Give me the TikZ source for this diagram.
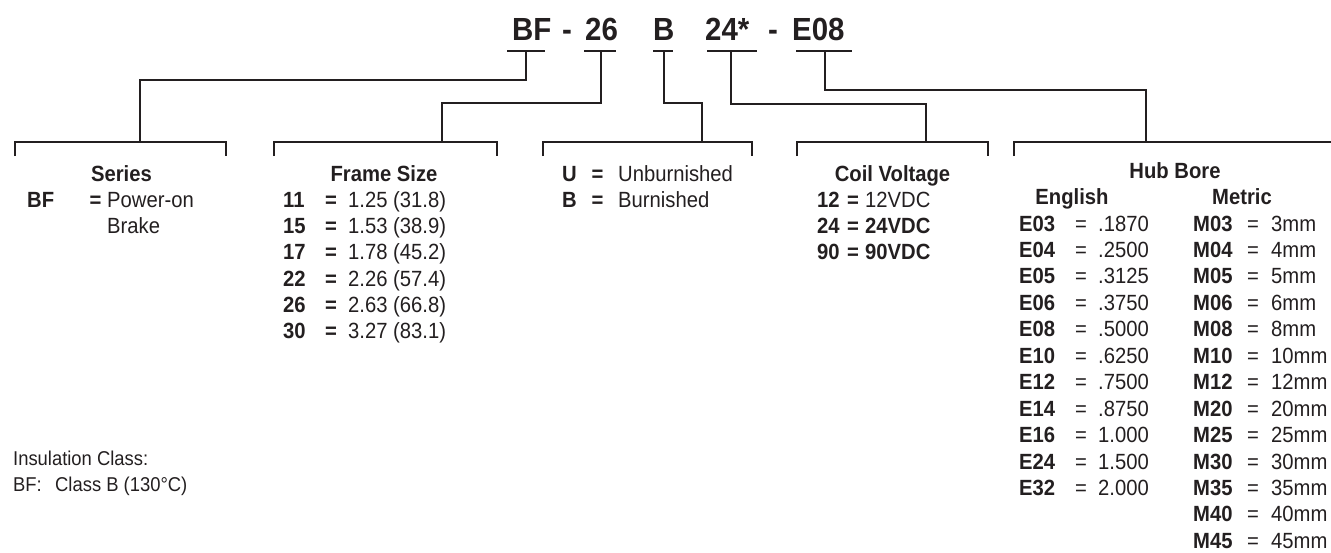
\documentclass[tikz,border=0pt]{standalone}
\usepackage{fontspec}
\setmainfont{Liberation Sans}[FakeStretch=0.92]
\definecolor{ink}{RGB}{35,31,32}
\tikzset{
  ln/.style={line width=2pt, draw=ink, line join=miter},
  tt/.style={anchor=base west, inner sep=0pt, text=ink, font=\fontsize{32}{38}\selectfont\bfseries},
  lb/.style={anchor=base west, inner sep=0pt, text=ink, font=\fontsize{22}{26}\selectfont},
  lbb/.style={lb, font=\fontsize{22}{26}\selectfont\bfseries},
  hdr/.style={anchor=base, inner sep=0pt, text=ink, font=\fontsize{22}{26}\selectfont\bfseries},
  eqb/.style={anchor=base, inner sep=0pt, text=ink, font=\fontsize{22}{26}\selectfont\bfseries},
  eqr/.style={anchor=base, inner sep=0pt, text=ink, font=\fontsize{22}{26}\selectfont},
  sm/.style={anchor=base west, inner sep=0pt, text=ink, font=\fontsize{20}{24}\selectfont},
}
\begin{document}
\begin{tikzpicture}[x=1pt,y=-1pt]
\useasboundingbox (0,0) rectangle (1331,552);

% ---- title ----
\node[tt] (tBF) at (512,40) {BF};
\node[tt] (tD1) at (562,40) {-};
\node[tt] (t26) at (585,40) {26};
\node[tt] (tB)  at (653,40) {B};
\node[tt] (t24) at (705,40) {24*};
\node[tt] (tD2) at (768,40) {-};
\node[tt] (tE)  at (792,40) {E08};

% ---- underlines ----
\coordinate (u1a) at (507,51); \coordinate (u1b) at (545,51); \coordinate (u1) at (526,51);
\coordinate (u2a) at (584,51); \coordinate (u2b) at (616,51); \coordinate (u2) at (601,51);
\coordinate (u3a) at (653,51); \coordinate (u3b) at (673,51); \coordinate (u3) at (664,51);
\coordinate (u4a) at (707,51); \coordinate (u4b) at (757,51); \coordinate (u4) at (731,51);
\coordinate (u5a) at (796,51); \coordinate (u5b) at (852,51); \coordinate (u5) at (825,51);
\draw[ln] (u1a) -- (u1b);
\draw[ln] (u2a) -- (u2b);
\draw[ln] (u3a) -- (u3b);
\draw[ln] (u4a) -- (u4b);
\draw[ln] (u5a) -- (u5b);

% ---- brackets ----
\coordinate (b1l) at (15,156);   \coordinate (b1r) at (226,142);
\coordinate (b2l) at (274,156);  \coordinate (b2r) at (497,142);
\coordinate (b3l) at (543,156);  \coordinate (b3r) at (752,142);
\coordinate (b4l) at (797,156);  \coordinate (b4r) at (988,142);
\coordinate (b5l) at (1014,156); \coordinate (b5r) at (1331,142);
\draw[ln] (b1l) |- (b1r) -- ++(0,14);
\draw[ln] (b2l) |- (b2r) -- ++(0,14);
\draw[ln] (b3l) |- (b3r) -- ++(0,14);
\draw[ln] (b4l) |- (b4r) -- ++(0,14);
\draw[ln] (b5l) |- (b5r);

% ---- connectors ----
\coordinate (k1) at (140,80);   \coordinate (b1) at (140,142);
\coordinate (k2) at (442,102.7);\coordinate (b2) at (442,142);
\coordinate (k3) at (702,102.7);\coordinate (b3) at (702,142);
\coordinate (k4) at (926,104);  \coordinate (b4) at (926,142);
\coordinate (k5) at (1146,90);  \coordinate (b5) at (1146,142);
\draw[ln] (u1) |- (k1) -- (b1);
\draw[ln] (u2) |- (k2) -- (b2);
\draw[ln] (u3) |- (k3) -- (b3);
\draw[ln] (u4) |- (k4) -- (b4);
\draw[ln] (u5) |- (k5) -- (b5);

% ---- Series ----
\node[hdr] (sH) at (121.5,181) {Series};
\node[lbb] (s1) at (27,207.7) {BF};
\node[eqb] (s1e) at (95.5,207.7) {=};
\node[lb] (s1v) at (107,207.7) {Power-on};
\node[lb] (s2v) at (107,233.8) {Brake};

% ---- Frame Size ----
\node[hdr] (fH) at (384,181) {Frame Size};
\foreach \k/\v [count=\i from 0] in {11/{1.25 (31.8)},15/{1.53 (38.9)},17/{1.78 (45.2)},22/{2.26 (57.4)},26/{2.63 (66.8)},30/{3.27 (83.1)}}{
  \node[lbb] (fk\i) at (283,207.7+26.1*\i) {\k};
  \node[eqb] (fe\i) at (331,207.7+26.1*\i) {=};
  \node[lb]  (fv\i) at (348,207.7+26.1*\i) {\v};
}

% ---- Burnish ----
\node[lbb] (bU) at (562,181) {U};
\node[eqb] (bUe) at (597.5,181) {=};
\node[lb] (bUv) at (618,181) {Unburnished};
\node[lbb] (bB) at (562,207.7) {B};
\node[eqb] (bBe) at (597.5,207.7) {=};
\node[lb] (bBv) at (618,207.7) {Burnished};

% ---- Coil Voltage ----
\node[hdr] (cH) at (892.5,181) {Coil Voltage};
\node[lbb] (c1) at (817,207.7) {12};
\node[eqb] (c1e) at (853,207.7) {=};
\node[lb]  (c1v) at (865,207.7) {12VDC};
\node[lbb] (c2) at (817,233.8) {24};
\node[eqb] (c2e) at (853,233.8) {=};
\node[lbb] (c2v) at (865,233.8) {24VDC};
\node[lbb] (c3) at (817,259.9) {90};
\node[eqb] (c3e) at (853,259.9) {=};
\node[lbb] (c3v) at (865,259.9) {90VDC};

% ---- Hub Bore ----
\node[hdr] (hH) at (1175,178.3) {Hub Bore};
\node[hdr] (hE) at (1072,204.7) {English};
\node[hdr] (hM) at (1242,204.7) {Metric};
\foreach \k/\v [count=\i from 0] in {E03/.1870,E04/.2500,E05/.3125,E06/.3750,E08/.5000,E10/.6250,E12/.7500,E14/.8750,E16/1.000,E24/1.500,E32/2.000}{
  \node[lbb] (ek\i) at (1019,231+26.45*\i) {\k};
  \node[eqr] (ee\i) at (1081,231+26.45*\i) {=};
  \node[lb]  (ev\i) at (1098,231+26.45*\i) {\v};
}
\foreach \k/\v [count=\i from 0] in {M03/3mm,M04/4mm,M05/5mm,M06/6mm,M08/8mm,M10/10mm,M12/12mm,M20/20mm,M25/25mm,M30/30mm,M35/35mm,M40/40mm,M45/45mm}{
  \node[lbb] (mk\i) at (1193,231+26.45*\i) {\k};
  \node[eqr] (me\i) at (1253,231+26.45*\i) {=};
  \node[lb]  (mv\i) at (1271,231+26.45*\i) {\v};
}

% ---- Insulation ----
\node[sm] (iA) at (13,465) {Insulation Class:};
\node[sm] (iB) at (13,491) {BF:};
\node[sm] (iC) at (55,491) {Class B (130°C)};
\end{tikzpicture}
\end{document}
